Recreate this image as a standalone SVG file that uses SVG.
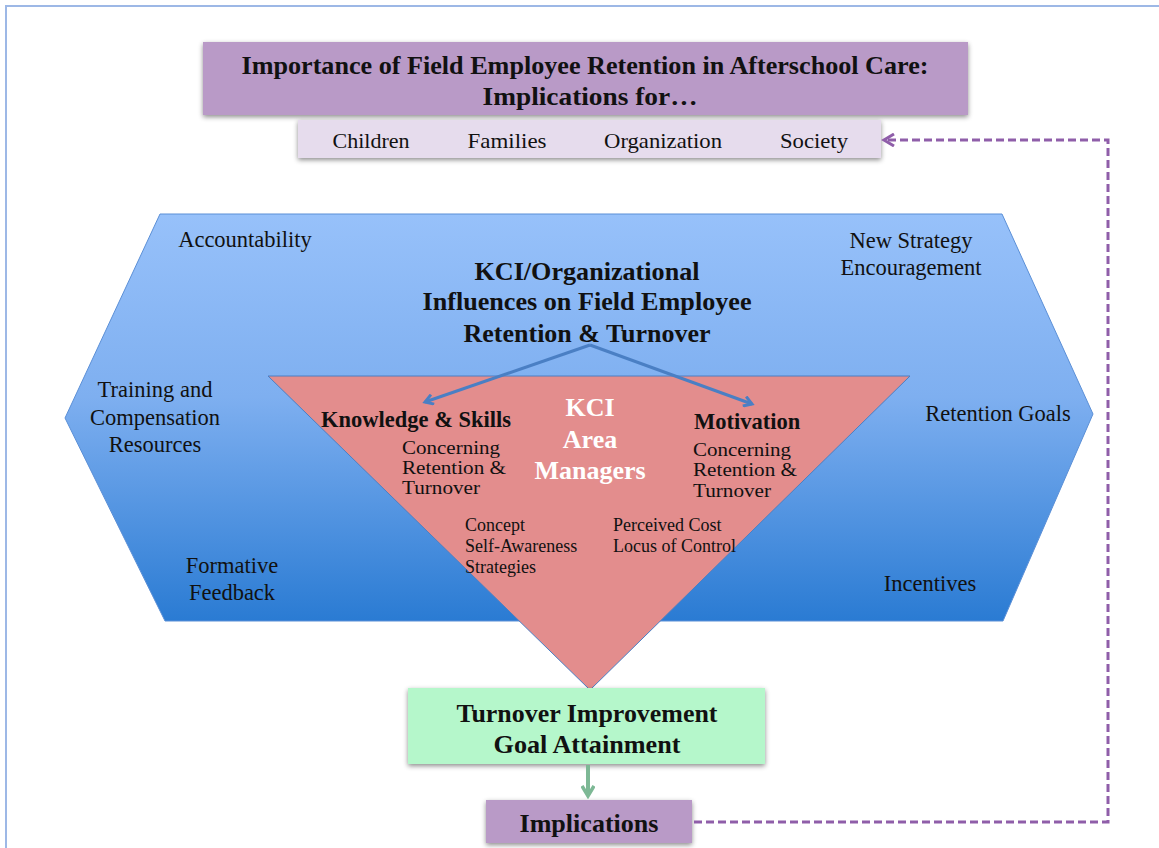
<svg xmlns="http://www.w3.org/2000/svg" width="1159" height="848" viewBox="0 0 1159 848">
<style>
.t{font-family:"Liberation Serif","Times New Roman",serif;fill:#111}
.b{font-weight:bold}
.c{text-anchor:middle}
.h{font-size:22.5px}
.m{font-size:21px}
.n{font-size:19px}
.s{font-size:18px}
.big{font-size:25px}
.w{fill:#fff;font-size:26px}
</style>
<defs>
<linearGradient id="hexg" x1="0" y1="0" x2="0" y2="1">
<stop offset="0" stop-color="#97c1fa"/>
<stop offset="0.45" stop-color="#7eaff0"/>
<stop offset="1" stop-color="#2a7bd3"/>
</linearGradient>
<filter id="sh" x="-10%" y="-30%" width="120%" height="160%">
<feDropShadow dx="0" dy="2" stdDeviation="2.5" flood-color="#000" flood-opacity="0.45"/>
</filter>
<marker id="ab" markerWidth="12" markerHeight="12" refX="9" refY="6" orient="auto" markerUnits="userSpaceOnUse">
<path d="M1,1 L9,6 L1,11" fill="none" stroke="#4a7fc4" stroke-width="3"/>
</marker>
<marker id="ag" markerWidth="14" markerHeight="14" refX="11" refY="7" orient="auto" markerUnits="userSpaceOnUse">
<path d="M1,1 L11,7 L1,13" fill="none" stroke="#7db895" stroke-width="3.5"/>
</marker>
<marker id="ap" markerWidth="14" markerHeight="14" refX="11" refY="7" orient="auto" markerUnits="userSpaceOnUse">
<path d="M1,1 L11,7 L1,13" fill="none" stroke="#8f5ea9" stroke-width="3"/>
</marker>
</defs>
<rect x="0" y="0" width="1159" height="848" fill="#fff"/>
<path d="M6,848 L6,6 L1159,6" fill="none" stroke="#9db8e6" stroke-width="2"/>

<g id="title">
<rect x="203" y="42" width="765" height="73" fill="#b99ac7" filter="url(#sh)"/>
<text class="t b c big" x="585" y="74" textLength="687" lengthAdjust="spacingAndGlyphs">Importance of Field Employee Retention in Afterschool Care:</text>
<text class="t b c big" x="590" y="105" textLength="215" lengthAdjust="spacingAndGlyphs">Implications for…</text>
</g>
<g id="stakeholders">
<rect x="298" y="120" width="583" height="38" fill="#e6dced" filter="url(#sh)"/>
<text class="t c m" x="371" y="148" textLength="77" lengthAdjust="spacingAndGlyphs">Children</text>
<text class="t c m" x="507" y="148" textLength="79" lengthAdjust="spacingAndGlyphs">Families</text>
<text class="t c m" x="663" y="148" textLength="118" lengthAdjust="spacingAndGlyphs">Organization</text>
<text class="t c m" x="814" y="148" textLength="68" lengthAdjust="spacingAndGlyphs">Society</text>
</g>

<g id="influences">
<polygon points="160,214 1002,214 1093,414 1003,621 165,621 65,418" fill="url(#hexg)" stroke="#5b8fd6" stroke-width="1"/>
<text class="t c h" x="245" y="247">Accountability</text>
<text class="t c h" x="911" y="248">New Strategy</text>
<text class="t c h" x="911" y="275">Encouragement</text>
<text class="t c h" x="155" y="397">Training and</text>
<text class="t c h" x="155" y="425">Compensation</text>
<text class="t c h" x="155" y="452">Resources</text>
<text class="t c h" x="998" y="421">Retention Goals</text>
<text class="t c h" x="232" y="573">Formative</text>
<text class="t c h" x="232" y="600">Feedback</text>
<text class="t c h" x="930" y="591">Incentives</text>
<text class="t b c big" x="587" y="280" textLength="225" lengthAdjust="spacingAndGlyphs">KCI/Organizational</text>
<text class="t b c big" x="587" y="310" textLength="329" lengthAdjust="spacingAndGlyphs">Influences on Field Employee</text>
<text class="t b c big" x="587" y="342" textLength="247" lengthAdjust="spacingAndGlyphs">Retention &amp; Turnover</text>
</g>

<g id="managers">
<polygon points="268,376 910,376 590,690" fill="#e38d8d" stroke="#4a7fc4" stroke-width="1"/>
<text class="t b c w" x="590" y="416">KCI</text>
<text class="t b c w" x="590" y="448">Area</text>
<text class="t b c w" x="590" y="479">Managers</text>
</g>
<g id="knowledge">
<text class="t b h" x="321" y="427">Knowledge &amp; Skills</text>
<text class="t n" x="402" y="454" textLength="98" lengthAdjust="spacingAndGlyphs">Concerning</text>
<text class="t n" x="402" y="474" textLength="104" lengthAdjust="spacingAndGlyphs">Retention &amp;</text>
<text class="t n" x="402" y="494" textLength="78" lengthAdjust="spacingAndGlyphs">Turnover</text>
<text class="t s" x="465" y="531">Concept</text>
<text class="t s" x="465" y="552">Self-Awareness</text>
<text class="t s" x="465" y="573">Strategies</text>
</g>
<g id="motivation">
<text class="t b h" x="694" y="429">Motivation</text>
<text class="t n" x="693" y="456" textLength="98" lengthAdjust="spacingAndGlyphs">Concerning</text>
<text class="t n" x="693" y="476" textLength="104" lengthAdjust="spacingAndGlyphs">Retention &amp;</text>
<text class="t n" x="693" y="497" textLength="78" lengthAdjust="spacingAndGlyphs">Turnover</text>
<text class="t s" x="613" y="531">Perceived Cost</text>
<text class="t s" x="613" y="552">Locus of Control</text>
</g>

<g id="goal">
<rect x="408" y="688" width="357" height="76" fill="#b5f7cb" filter="url(#sh)"/>
<text class="t b c big" x="587" y="722" textLength="261" lengthAdjust="spacingAndGlyphs">Turnover Improvement</text>
<text class="t b c big" x="587" y="753" textLength="187" lengthAdjust="spacingAndGlyphs">Goal Attainment</text>
</g>
<g id="implications">
<rect x="486" y="800" width="206" height="43" fill="#b99ac7" filter="url(#sh)"/>
<text class="t b c big" x="589" y="832" textLength="139" lengthAdjust="spacingAndGlyphs">Implications</text>
</g>

<g id="connectors" fill="none">
<path d="M590,345 L425,402" stroke="#4a7fc4" stroke-width="3" marker-end="url(#ab)"/>
<path d="M590,345 L752,404" stroke="#4a7fc4" stroke-width="3" marker-end="url(#ab)"/>
<path d="M588,765 L588,796" stroke="#7db895" stroke-width="4" marker-end="url(#ag)"/>
<path d="M694,822 L1108,822 L1108,140 L884,140" stroke="#8f5ea9" stroke-width="3" stroke-dasharray="8,4" marker-end="url(#ap)"/>
</g>
</svg>
